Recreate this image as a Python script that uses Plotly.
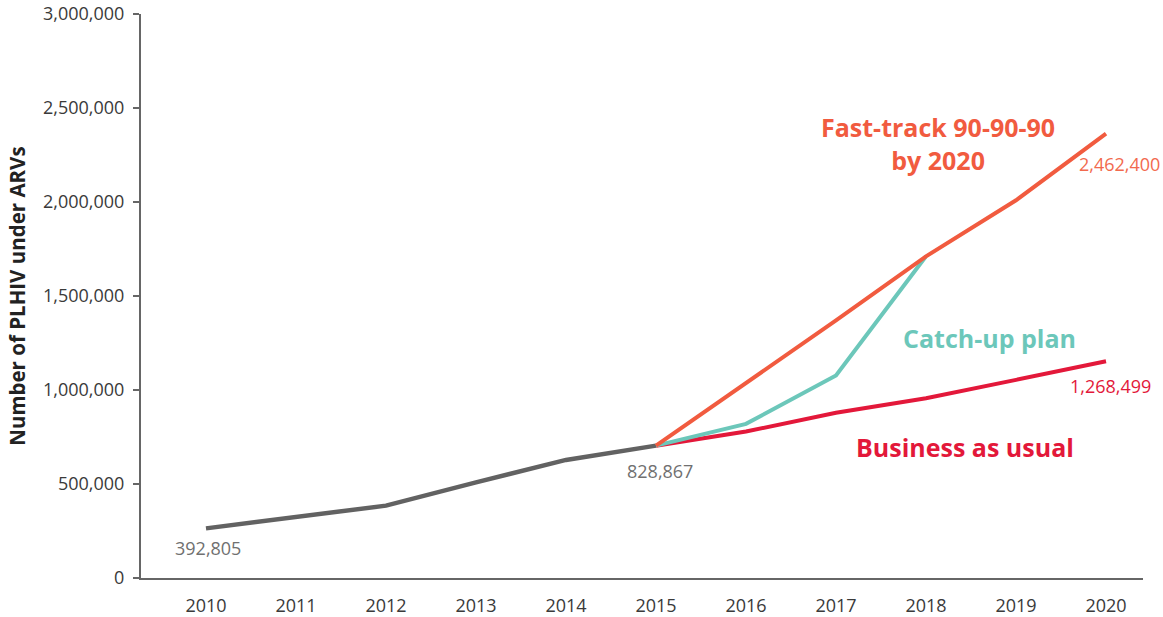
import plotly.graph_objects as go

years_hist = [2010, 2011, 2012, 2013, 2014, 2015]
hist_vals = [264000, 325000, 385000, 509000, 628000, 704000]

years_proj = [2015, 2016, 2017, 2018, 2019, 2020]
fast_track = [704000, 1036000, 1370000, 1711000, 2009000, 2364000]
business = [704000, 779000, 879000, 956000, 1054000, 1153000]

years_catch = [2015, 2016, 2017, 2018]
catch_up = [704000, 820000, 1077000, 1711000]

x_ticks = list(range(2010, 2021))
y_ticks = [0, 500000, 1000000, 1500000, 2000000, 2500000, 3000000]

GRAY = "#626262"
ORANGE = "#F15B3F"
TEAL = "#6CC7BA"
RED = "#E3183A"
FONT = "Open Sans"

fig = go.Figure()
fig.add_trace(go.Scatter(x=years_hist, y=hist_vals, mode="lines",
                         line=dict(color=GRAY, width=4.5), showlegend=False))
fig.add_trace(go.Scatter(x=years_proj, y=business, mode="lines",
                         line=dict(color=RED, width=4), showlegend=False))
fig.add_trace(go.Scatter(x=years_catch, y=catch_up, mode="lines",
                         line=dict(color=TEAL, width=4), showlegend=False))
fig.add_trace(go.Scatter(x=years_proj, y=fast_track, mode="lines",
                         line=dict(color=ORANGE, width=4), showlegend=False))

annotations = [
    dict(x=years_hist[0], y=hist_vals[0], text="392,805", showarrow=False,
         yshift=-20, xshift=2, font=dict(family=FONT, size=18, color="#707070")),
    dict(x=years_hist[-1], y=hist_vals[-1], text="828,867", showarrow=False,
         yshift=-25, xshift=4, font=dict(family=FONT, size=18, color="#707070")),
    dict(x=years_proj[-1], y=fast_track[-1], text="2,462,400", showarrow=False,
         xanchor="right", yshift=-30, xshift=56, font=dict(family=FONT, size=18, color="#F26A4E")),
    dict(x=years_proj[-1], y=business[-1], text="1,268,499", showarrow=False,
         yshift=-25, xshift=4, font=dict(family=FONT, size=18, color=RED)),
    dict(x=2018.13, y=2312000, text="<b>Fast-track 90-90-90<br>by 2020</b>", showarrow=False,
         font=dict(family=FONT, size=25, color=ORANGE)),
    dict(x=2018.70, y=1278000, text="<b>Catch-up plan</b>", showarrow=False,
         font=dict(family=FONT, size=25, color=TEAL)),
    dict(x=2018.43, y=697000, text="<b>Business as usual</b>", showarrow=False,
         font=dict(family=FONT, size=25, color=RED)),
    dict(xref="paper", yref="paper", x=-0.124, y=0.5, xanchor="center", yanchor="middle",
         text="<b>Number of PLHIV under ARVs</b>",
         textangle=-90, showarrow=False, font=dict(family=FONT, size=20.5, color="#222222")),
]

fig.update_layout(
    width=1163, height=617,
    margin=dict(l=141, r=20, t=14, b=39, pad=0),
    paper_bgcolor="white", plot_bgcolor="white",
    font=dict(family=FONT, size=18, color="#3a3a3a"),
    annotations=annotations,
    xaxis=dict(range=[2009.278, 2020.411], tickvals=x_ticks, automargin=False,
               ticktext=[str(v) for v in x_ticks], showgrid=False, zeroline=False,
               showline=True, linecolor="#666666", linewidth=2, ticks="",
               ticklabelstandoff=10, tickfont=dict(family=FONT, size=18, color="#3a3a3a")),
    yaxis=dict(range=[0, 3000000], tickvals=y_ticks, tickformat=",", automargin=False,
               showgrid=False, zeroline=False, showline=True, linecolor="#666666",
               linewidth=2, ticks="outside", ticklen=6, tickcolor="#666666", tickwidth=1.5,
               ticklabelstandoff=5, tickfont=dict(family=FONT, size=18, color="#3a3a3a")),
)

fig.write_html("out.html", config={"displayModeBar": False},
               post_script="document.body.style.margin='0px';")
